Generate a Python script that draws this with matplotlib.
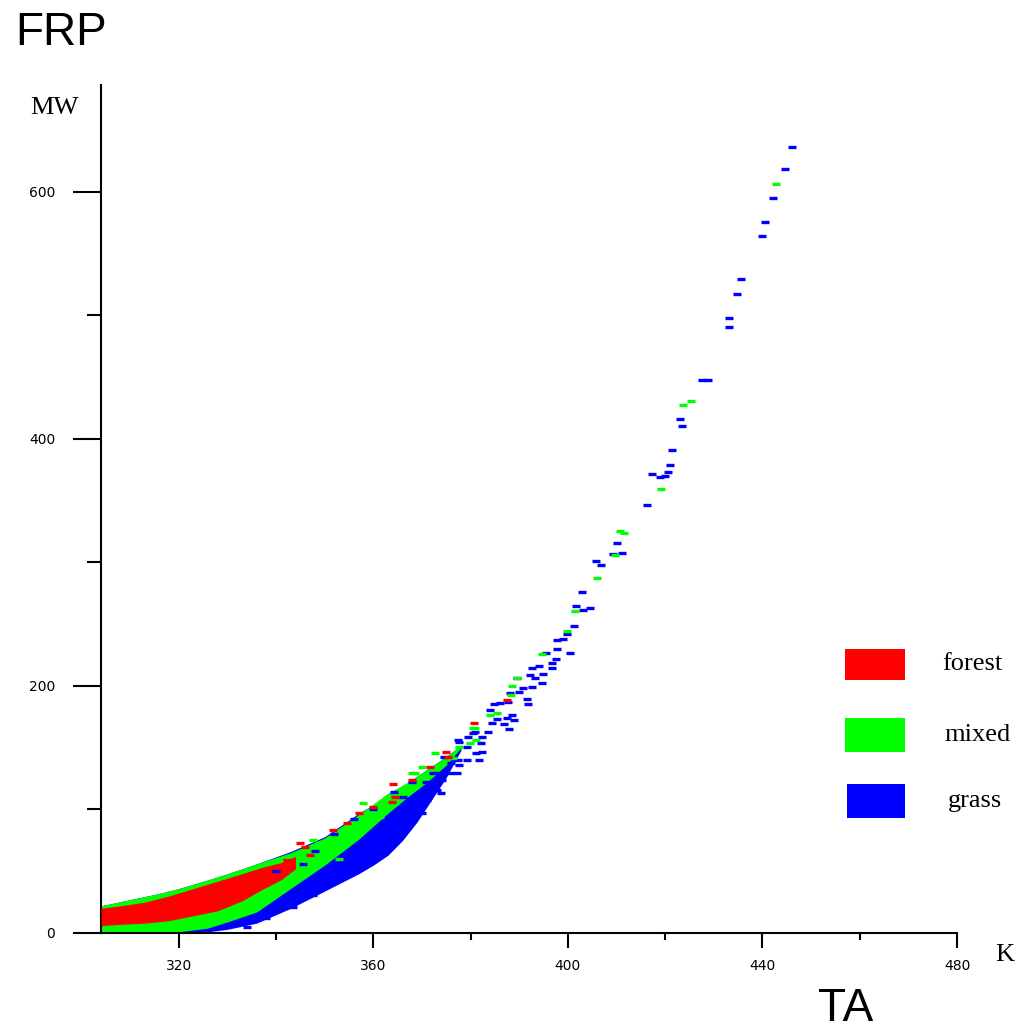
import matplotlib
matplotlib.use("Agg")
import matplotlib.pyplot as plt
from matplotlib.patches import Rectangle
import numpy as np

# ---------------- data ----------------
# dense part of the cloud, given as band edges (K -> MW)
blue_band_t = [304, 310, 316, 320, 326, 330, 336, 343, 350, 357, 360, 363, 366, 369, 372, 375, 378]
blue_band_lo = [0.5, 0.5, 0.5, 0.5, 1, 3, 8, 20, 34, 48, 55, 63, 75, 90, 108, 126, 148]
blue_band_hi = [22, 27, 32, 36, 43, 48, 56, 66, 78, 97, 104, 113, 119, 127, 135, 143, 152]

green_band_t = [304, 310, 316, 320, 326, 330, 336, 343, 350, 357, 363, 367, 371, 375, 378]
green_band_lo = [0.5, 0.5, 0.8, 1, 4, 9, 17, 36, 55, 76, 97, 110, 122, 136, 150]
green_band_hi = [22, 27, 32, 36, 43, 48, 56, 65, 77, 96, 113, 122, 132, 143, 152]

red_band_t = [304, 308, 313, 318, 323, 328, 333, 337, 341, 344]
red_band_lo = [6, 7, 8, 10, 14, 18, 26, 35, 43, 52]
red_band_hi = [20, 22, 25, 30, 36, 42, 48, 53, 57, 62]

# single dashes
forest_t = [342.2, 344.9, 351.6, 354.5, 359.9, 364.0, 363.8, 368.0, 371.6, 375.0,
            375.3, 380.6, 387.4, 364.5, 357.0, 347.0, 346.0]
forest_mw = [59, 73, 83.4, 89, 102, 121, 106, 124, 134.4, 146.6,
             142.5, 170, 188.7, 110, 97, 63, 70]

mixed_t = [347.5, 357.8, 361.3, 368.0, 368.5, 369.9, 370.1, 372.6, 376.3, 377.7,
           379.8, 381.2, 380.4, 380.8, 383.9, 385.5, 388.2, 388.6, 389.6, 394.6,
           399.9, 401.5, 406.0, 409.7, 410.8, 411.6, 419.2, 423.7, 425.4, 442.8,
           353.0, 345.0]
mixed_mw = [75, 105, 94, 129.5, 129.5, 125.5, 134.4, 145.7, 141.7, 150.6,
            154, 156, 166, 166, 176.5, 178, 192.7, 200, 206.5, 225.9,
            244.5, 260.7, 287.4, 306, 325.5, 323.9, 359.5, 427.5, 430.8, 606.5,
            60, 45]

grass_t = [343.4, 347.5, 350.4, 354.5, 357.2, 361.3, 364.0, 367.5, 370.1, 364.2,
           368.0, 370.9, 372.2, 373.6, 371.1, 373.0, 374.0, 371.0, 374.6, 377.3,
           377.7, 376.0, 375.7, 377.1, 374.2, 377.7, 379.2, 381.2, 382.4, 381.8,
           379.2, 377.3, 379.4, 380.8, 382.4, 383.5, 384.3, 382.2, 380.4, 384.9,
           386.1, 383.9, 385.5, 387.4, 388.6, 389.0, 386.8, 387.8, 387.6, 391.5,
           391.7, 388.0, 390.0, 390.7, 392.7, 389.6, 392.3, 393.3, 394.8, 394.6,
           392.7, 394.0, 396.8, 396.8, 397.6, 395.4, 400.5, 397.8, 397.8, 399.0,
           399.9, 401.3, 401.7, 403.2, 404.6, 402.8, 405.8, 406.9, 409.3, 411.2,
           410.0, 416.3, 417.3, 419.0, 420.0, 420.6, 421.0, 421.5, 423.5, 423.1,
           427.5, 428.8, 433.2, 433.2, 434.8, 435.6, 439.9, 440.5, 442.2, 444.7,
           446.1, 352.0, 356.0, 360.0, 366.0, 348.0, 340.0, 345.5, 338.0, 334.0]
grass_mw = [21, 30.8, 40.5, 51, 59, 67, 75, 89, 97, 114,
            122, 122, 129.5, 129.5, 118, 116, 113, 107.7, 142.5, 140,
            136, 137.7, 129.5, 129.5, 124, 154.7, 150.6, 145.7, 146.6, 140,
            140, 156, 158.7, 162.8, 158.7, 162.8, 170, 154, 162, 185.4,
            186, 180.6, 173, 174, 176.5, 172.5, 169, 165, 187, 189.5,
            185.4, 194.3, 195, 198.4, 199, 206.5, 209, 206.5, 209.7, 202.4,
            214.6, 216.2, 218.6, 214.6, 221.9, 226.7, 226.7, 230, 237, 238,
            242, 248.6, 264.8, 261.5, 263, 276, 301.2, 298, 306.9, 307.7,
            315.8, 346.6, 371.7, 369.2, 370, 373.3, 379, 391, 410.5, 416.2,
            447.8, 447.8, 498, 490.7, 517.4, 529.6, 564.4, 575.7, 595, 618.6,
            636.4, 80, 92, 100, 110, 66, 50, 56, 12, 5]

x_major = [320, 360, 400, 440, 480]
x_minor = [340, 380, 420, 460]
y_major = [0, 200, 400, 600]
y_minor = [100, 300, 500]

legend_names = ["forest", "mixed", "grass"]
RED, GREEN, BLUE = "#ff0000", "#00ff00", "#0000ff"

# ---------------- plot ----------------
W, H = 1027, 1030
fig = plt.figure(figsize=(W / 100, H / 100), dpi=100)
ax = fig.add_axes([101 / W, 1 - 933 / H, (957 - 101) / W, (933 - 85) / H])

ax.fill_between(blue_band_t, blue_band_lo, blue_band_hi, color=BLUE, lw=0, zorder=1)
ax.fill_between(green_band_t, green_band_lo, green_band_hi, color=GREEN, lw=0, zorder=2)
ax.fill_between(red_band_t, red_band_lo, red_band_hi, color=RED, lw=0, zorder=3)

dash = dict(ls="none", marker="_", ms=6, mew=2.4, clip_on=False)
ax.plot(grass_t, grass_mw, color=BLUE, zorder=4, **dash)
ax.plot(mixed_t, mixed_mw, color=GREEN, zorder=5, **dash)
ax.plot(forest_t, forest_mw, color=RED, zorder=6, **dash)

ax.set_xlim(304, 480)
ax.set_ylim(0, 686.6)

for s in ["top", "right"]:
    ax.spines[s].set_visible(False)
for s in ["left", "bottom"]:
    ax.spines[s].set_linewidth(1.5)
    ax.spines[s].set_color("black")

ax.set_xticks(x_major)
ax.set_xticks(x_minor, minor=True)
ax.set_yticks(y_major)
ax.set_yticks(y_minor, minor=True)
tick_font = dict(family="DejaVu Sans", size=10)
ax.set_xticklabels([str(v) for v in x_major], **tick_font)
ax.set_yticklabels([str(v) for v in y_major], **tick_font)
ax.tick_params(axis="x", which="major", length=11, width=1.5, direction="out", pad=8)
ax.tick_params(axis="x", which="minor", length=5, width=1.5, direction="out")
ax.tick_params(axis="y", which="major", length=20, width=1.5, direction="out", pad=13)
ax.tick_params(axis="y", which="minor", length=10, width=1.5, direction="out")

serif = dict(family="Liberation Serif", size=19, color="black")
fig.text(54 / W, 1 - 108 / H, "MW", ha="center", va="center", **serif)
fig.text(1005 / W, 1 - 955 / H, "K", ha="center", va="center", **serif)

# legend boxes
boxes = [(845, 649, 905, 680), (845, 718, 905, 752), (847, 784, 905, 818)]
label_x = [972, 978, 975]
for (x0, y0, x1, y1), col, name, lx in zip(boxes, [RED, GREEN, BLUE], legend_names, label_x):
    fig.add_artist(Rectangle((x0 / W, 1 - y1 / H), (x1 - x0) / W, (y1 - y0) / H,
                             transform=fig.transFigure, color=col, lw=0))
    fig.text(lx / W, 1 - ((y0 + y1) / 2) / H, name, ha="center", va="center", **serif)

sans = dict(family="Liberation Sans", size=33, color="black")
fig.text(15 / W, 1 - 45 / H, "FRP", ha="left", va="baseline", **sans)
fig.text(818 / W, 1 - 1021 / H, "TA", ha="left", va="baseline", **sans)

fig.savefig("out.png", dpi=100, facecolor="white")
